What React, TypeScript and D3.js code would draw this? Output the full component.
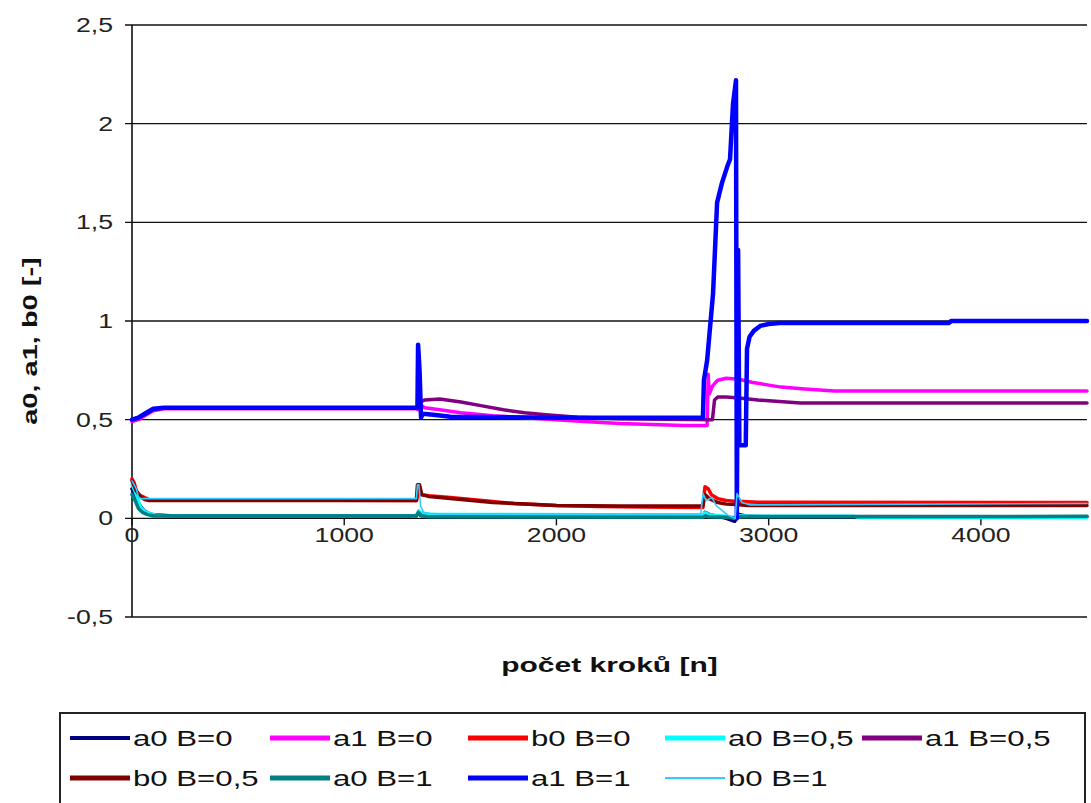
import React from 'react';
import * as d3 from 'd3';

const W = 1091;
const H = 803;

const xTicks = [0, 1000, 2000, 3000, 4000];
const xTickLabels = ['0', '1000', '2000', '3000', '4000'];
const yTicks = [-0.5, 0, 0.5, 1, 1.5, 2, 2.5];
const yTickLabels = ['-0,5', '0', '0,5', '1', '1,5', '2', '2,5'];

const seriesNames = ['a0 B=0', 'a1 B=0', 'b0 B=0', 'a0 B=0,5', 'a1 B=0,5', 'b0 B=0,5', 'a0 B=1', 'a1 B=1', 'b0 B=1'];
const seriesColors = ['#000080', '#FF00FF', '#FF0000', '#00FFFF', '#800080', '#800000', '#008080', '#0000FF', '#33CCFF'];

// a0 B=0
const a0B0_n = [0, 20, 40, 60, 80, 100, 200, 1340, 1350, 1360, 1400, 2690, 2700, 2720, 2760, 2800, 2840, 2860, 2900, 4500];
const a0B0_v = [0.15, 0.10, 0.06, 0.035, 0.025, 0.018, 0.012, 0.012, 0.03, 0.015, 0.01, 0.008, 0.03, 0.02, 0.01, 0.0, -0.015, 0.02, 0.01, 0.008];
// a1 B=0
const a1B0_n = [0, 30, 60, 100, 150, 1340, 1350, 1360, 1380, 1450, 1550, 1700, 1850, 2000, 2150, 2300, 2450, 2600, 2710, 2715, 2720, 2735, 2760, 2800, 2860, 2920, 3000, 3060, 3170, 3310, 4500];
const a1B0_v = [0.49, 0.50, 0.52, 0.545, 0.555, 0.555, 0.55, 0.575, 0.56, 0.55, 0.535, 0.52, 0.51, 0.50, 0.49, 0.48, 0.475, 0.47, 0.47, 0.73, 0.63, 0.67, 0.70, 0.71, 0.705, 0.69, 0.675, 0.665, 0.655, 0.645, 0.645];
// b0 B=0
const b0B0_n = [0, 10, 20, 30, 50, 80, 1340, 1348, 1355, 1365, 1400, 1500, 1600, 1700, 1800, 1900, 2000, 2200, 2400, 2690, 2700, 2715, 2730, 2760, 2800, 2850, 2880, 2950, 4500];
const b0B0_v = [0.20, 0.18, 0.14, 0.12, 0.11, 0.095, 0.09, 0.13, 0.16, 0.12, 0.115, 0.105, 0.095, 0.085, 0.075, 0.07, 0.065, 0.06, 0.058, 0.055, 0.16, 0.15, 0.12, 0.10, 0.09, 0.085, 0.085, 0.082, 0.08];
// a0 B=0,5
const a0B05_n = [0, 20, 40, 60, 100, 150, 1340, 1350, 1360, 1400, 2690, 2700, 2720, 2800, 2840, 2860, 2900, 3400, 3420, 4500];
const a0B05_v = [0.17, 0.12, 0.06, 0.035, 0.02, 0.012, 0.012, 0.04, 0.03, 0.022, 0.018, 0.03, 0.02, 0.01, 0.0, 0.015, 0.012, 0.012, 0.003, 0.003];
// a1 B=0,5
const a1B05_n = [0, 30, 60, 100, 150, 1340, 1360, 1380, 1450, 1550, 1650, 1750, 1850, 1950, 2100, 2300, 2735, 2745, 2760, 2800, 2860, 2950, 3050, 3150, 4500];
const a1B05_v = [0.50, 0.51, 0.525, 0.55, 0.56, 0.56, 0.59, 0.60, 0.605, 0.59, 0.57, 0.55, 0.535, 0.525, 0.512, 0.505, 0.50, 0.60, 0.615, 0.615, 0.61, 0.60, 0.592, 0.585, 0.585];
// b0 B=0,5
const b0B05_n = [0, 20, 40, 60, 80, 1340, 1345, 1355, 1365, 1400, 1500, 1600, 1700, 1800, 1900, 2000, 2300, 2690, 2700, 2720, 2760, 2800, 2850, 2900, 4500];
const b0B05_v = [0.19, 0.14, 0.11, 0.095, 0.09, 0.09, 0.17, 0.17, 0.12, 0.11, 0.10, 0.09, 0.08, 0.075, 0.07, 0.065, 0.063, 0.063, 0.12, 0.10, 0.08, 0.072, 0.07, 0.065, 0.065];
// a0 B=1
const a0B1_n = [0, 15, 30, 50, 70, 100, 1340, 1350, 1365, 1400, 2690, 2700, 2720, 2800, 2850, 2870, 2900, 4500];
const a0B1_v = [0.12, 0.09, 0.05, 0.03, 0.02, 0.012, 0.012, 0.03, 0.012, 0.008, 0.005, 0.012, 0.008, 0.005, 0.003, 0.008, 0.008, 0.01];
// a1 B=1
const a1B1_n = [0, 30, 60, 100, 150, 1345, 1348, 1355, 1362, 1370, 1420, 1500, 2000, 2690, 2695, 2710, 2738, 2757, 2780, 2804, 2818, 2832, 2846, 2850, 2856, 2862, 2892, 2898, 2910, 2930, 2960, 3000, 3050, 3850, 3860, 4500];
const a1B1_v = [0.50, 0.51, 0.53, 0.555, 0.56, 0.56, 0.88, 0.75, 0.51, 0.53, 0.525, 0.515, 0.51, 0.51, 0.70, 0.80, 1.14, 1.60, 1.70, 1.78, 1.82, 2.10, 2.22, 0.0, 1.36, 0.37, 0.37, 0.86, 0.92, 0.95, 0.975, 0.985, 0.99, 0.99, 1.0, 1.0];
// b0 B=1
const b0B1_n = [0, 20, 30, 40, 1340, 1345, 1352, 1360, 1375, 1400, 1450, 2680, 2691, 2705, 2733, 2752, 2780, 2809, 2842, 2851, 2875, 2912, 4500];
const b0B1_v = [0.19, 0.15, 0.11, 0.10, 0.10, 0.17, 0.17, 0.06, 0.03, 0.025, 0.022, 0.022, 0.125, 0.09, 0.105, 0.065, 0.04, 0.015, 0.0, 0.125, 0.08, 0.068, 0.075];

const seriesN = [a0B0_n, a1B0_n, b0B0_n, a0B05_n, a1B05_n, b0B05_n, a0B1_n, a1B1_n, b0B1_n];
const seriesV = [a0B0_v, a1B0_v, b0B0_v, a0B05_v, a1B05_v, b0B05_v, a0B1_v, a1B1_v, b0B1_v];
const seriesWidths = [3.5, 3.5, 3.5, 3, 3.5, 3.5, 3.5, 4.5, 1.6];
const legendWidths = [4, 5, 5, 5, 5, 5, 5, 5, 2];

export default function App() {
  const left = 132, right = 1087, top = 25, bottom = 617;
  const x = d3.scaleLinear().domain([0, 4500]).range([left, right]);
  const y = d3.scaleLinear().domain([-0.5, 2.5]).range([bottom, top]);
  const line = d3.line<[number, number]>().x(d => x(d[0])).y(d => y(d[1]));
  const y0 = y(0);
  const font = '"Liberation Sans", Arial, sans-serif';
  const sx = 1.3;

  const legendCols = [70, 270, 468, 665, 862];
  const legendRows = [738, 778];

  return (
    <svg width={W} height={H} style={{ position: 'absolute', left: 0, top: 0, background: '#fff' }}>
      <rect x={0} y={0} width={W} height={H} fill="#fff" />
      {yTicks.map((t, i) => (
        <g key={'gy' + i}>
          <line x1={left - 7} x2={right} y1={y(t)} y2={y(t)} stroke="#111" strokeWidth={1.4} />
          <text transform={`translate(113,${y(t) + 7}) scale(${sx},1)`} textAnchor="end" fontFamily={font} fontSize={20.5} fill="#222">{yTickLabels[i]}</text>
        </g>
      ))}
      <line x1={left} x2={left} y1={top} y2={bottom} stroke="#111" strokeWidth={1.6} />
      {xTicks.map((t, i) => (
        <g key={'gx' + i}>
          <line x1={x(t)} x2={x(t)} y1={y0} y2={y0 + 7} stroke="#111" strokeWidth={1.4} />
          <text transform={`translate(${x(t)},${y0 + 24}) scale(${sx},1)`} textAnchor="middle" fontFamily={font} fontSize={20.5} fill="#222">{xTickLabels[i]}</text>
        </g>
      ))}
      {seriesN.map((ns, i) => (
        <path key={'s' + i} d={line(ns.map((n, j) => [n, seriesV[i][j]] as [number, number])) || ''}
          fill="none" stroke={seriesColors[i]} strokeWidth={seriesWidths[i]} strokeLinejoin="round" strokeLinecap="round" />
      ))}
      <text transform={`translate(${(left + right) / 2},672) scale(1.5,1)`} textAnchor="middle" fontFamily={font} fontSize={20} fontWeight="bold" fill="#111">počet kroků [n]</text>
      <text transform={`translate(37,341) rotate(-90) scale(1.45,1)`} textAnchor="middle" fontFamily={font} fontSize={20} fontWeight="bold" fill="#111">a0, a1, b0 [-]</text>
      <rect x={60} y={713} width={1025} height={110} fill="#fff" stroke="#222" strokeWidth={2} />
      {seriesNames.map((name, i) => {
        const col = legendCols[i % 5];
        const row = legendRows[Math.floor(i / 5)];
        return (
          <g key={'l' + i}>
            <line x1={col} x2={col + 60} y1={row} y2={row} stroke={seriesColors[i]} strokeWidth={legendWidths[i]} />
            <text transform={`translate(${col + 63},${row + 8}) scale(1.45,1)`} fontFamily={font} fontSize={21.5} fill="#111">{name}</text>
          </g>
        );
      })}
    </svg>
  );
}
